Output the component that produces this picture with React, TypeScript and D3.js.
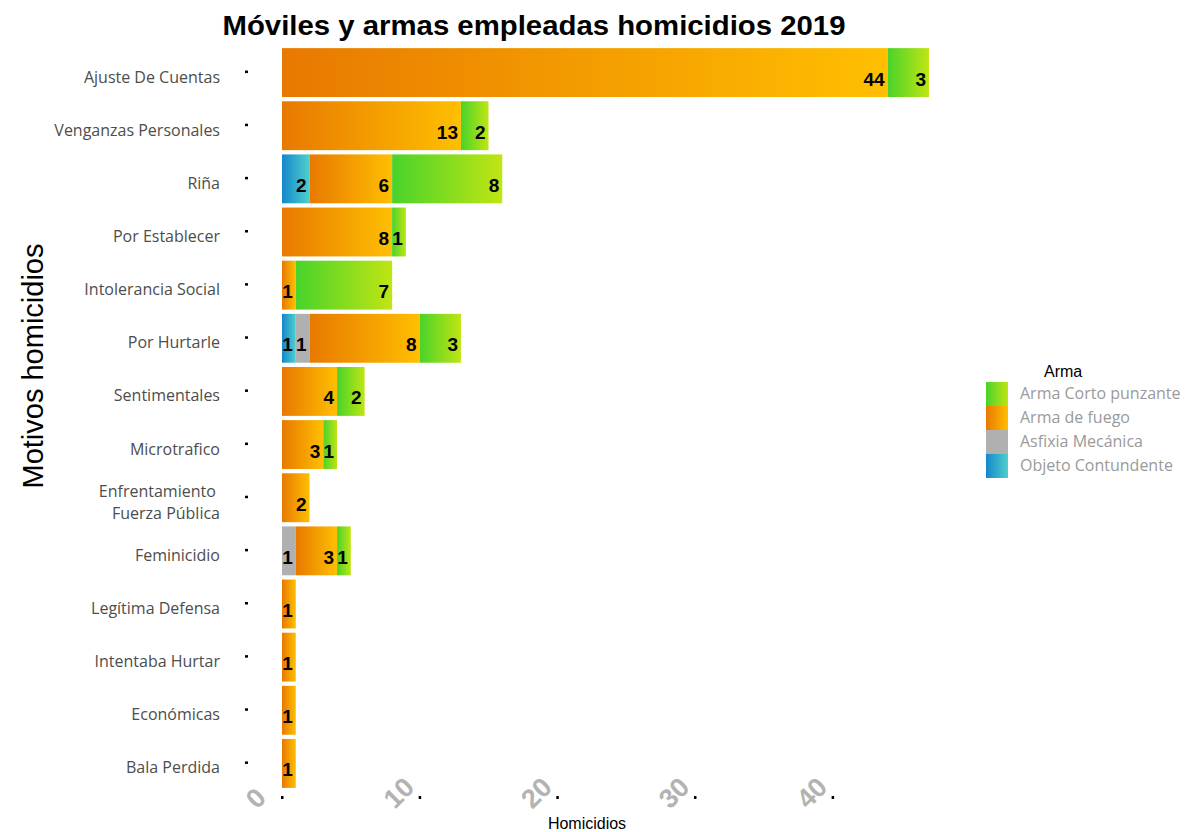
import { scaleBand, scaleLinear, stack } from "d3";

const motivos = [
  "Ajuste De Cuentas",
  "Venganzas Personales",
  "Riña",
  "Por Establecer",
  "Intolerancia Social",
  "Por Hurtarle",
  "Sentimentales",
  "Microtrafico",
  "Enfrentamiento \nFuerza Pública",
  "Feminicidio",
  "Legítima Defensa",
  "Intentaba Hurtar",
  "Económicas",
  "Bala Perdida",
];

// stacking order left to right
const armas = ["Objeto Contundente", "Asfixia Mecánica", "Arma de fuego", "Arma Corto punzante"];
const objeto = [0, 0, 2, 0, 0, 1, 0, 0, 0, 0, 0, 0, 0, 0];
const asfixia = [0, 0, 0, 0, 0, 1, 0, 0, 0, 1, 0, 0, 0, 0];
const fuego = [44, 13, 6, 8, 1, 8, 4, 3, 2, 3, 1, 1, 1, 1];
const corto = [3, 2, 8, 1, 7, 3, 2, 1, 0, 1, 0, 0, 0, 0];
const xTicks = [0, 10, 20, 30, 40];

const gradients: Record<string, [string, string]> = {
  "Objeto Contundente": ["#1487cc", "#4fcfcc"],
  "Asfixia Mecánica": ["#b0b0b0", "#b0b0b0"],
  "Arma de fuego": ["#e87900", "#ffbf00"],
  "Arma Corto punzante": ["#49d32a", "#c0e513"],
};
const legendOrder = ["Arma Corto punzante", "Arma de fuego", "Asfixia Mecánica", "Objeto Contundente"];

const gid = (k: string) => "g-" + armas.indexOf(k);

export default function App() {
  const rows = motivos.map((m, i) => ({
    motivo: m,
    "Objeto Contundente": objeto[i],
    "Asfixia Mecánica": asfixia[i],
    "Arma de fuego": fuego[i],
    "Arma Corto punzante": corto[i],
  }));
  const series = stack<any>().keys(armas)(rows);

  const x = scaleLinear().domain([0, 47]).range([282, 929]);
  const y = scaleBand<string>()
    .domain(motivos)
    .range([46, 790])
    .paddingInner(0.08)
    .paddingOuter(0.04);
  const bw = y.bandwidth();

  return (
    <svg
      width={1188}
      height={832}
      style={{ position: "absolute", left: 0, top: 0, background: "#fff" }}
    >
      <defs>
        {armas.map((k) => (
          <linearGradient key={k} id={gid(k)} x1="0" x2="1" y1="0" y2="0">
            <stop offset="0%" stopColor={gradients[k][0]} />
            <stop offset="100%" stopColor={gradients[k][1]} />
          </linearGradient>
        ))}
      </defs>

      <text
        x={534}
        y={35}
        textAnchor="middle"
        fontFamily="Liberation Sans, Arial, sans-serif"
        fontWeight="bold"
        fontSize={28}
        textLength={623}
        lengthAdjust="spacingAndGlyphs"
      >
        Móviles y armas empleadas homicidios 2019
      </text>

      {/* bars */}
      {series.map((s) =>
        s.map((d: any, i: number) =>
          d[1] - d[0] > 0 ? (
            <rect
              key={`${s.key}-${i}`}
              x={x(d[0])}
              y={y(motivos[i])}
              width={x(d[1]) - x(d[0])}
              height={bw}
              fill={`url(#${gid(s.key)})`}
            />
          ) : null
        )
      )}

      {/* value labels */}
      {series.map((s) =>
        s.map((d: any, i: number) =>
          d[1] - d[0] > 0 ? (
            <text
              key={`lab-${s.key}-${i}`}
              x={x(d[1]) - 3}
              y={(y(motivos[i]) ?? 0) + bw / 2 + 13}
              textAnchor="end"
              fontFamily="Liberation Sans, Arial, sans-serif"
              fontWeight="bold"
              fontSize={19}
              fill="#000"
            >
              {d[1] - d[0]}
            </text>
          ) : null
        )
      )}

      {/* y axis */}
      {motivos.map((m) => {
        const cy = (y(m) ?? 0) + bw / 2;
        const lines = m.split("\n");
        return (
          <g key={`y-${m}`}>
            <rect x={245} y={cy - 2} width={3} height={2.5} fill="#000" />
            <text
              x={220}
              textAnchor="end"
              fontFamily="Open Sans, sans-serif"
              fontSize={16}
              fill="#4d4d4d"
            >
              {lines.map((l, j) => (
                <tspan
                  key={j}
                  x={220}
                  y={cy + 10 + (j - (lines.length - 1) / 2) * 22}
                  style={{ whiteSpace: "pre" }}
                >
                  {l}
                </tspan>
              ))}
            </text>
          </g>
        );
      })}

      {/* x axis */}
      {xTicks.map((t) => (
        <g key={`x-${t}`}>
          <rect x={x(t) - 1} y={796} width={2.5} height={3} fill="#000" />
          <text
            transform={`translate(${x(t) - 25},${810}) rotate(-45)`}
            textAnchor="start"
            fontFamily="Liberation Sans, Arial, sans-serif"
            fontWeight="bold"
            fontSize={27}
            fill="#b3b3b3"
          >
            {t}
          </text>
        </g>
      ))}

      <text
        x={587}
        y={829}
        textAnchor="middle"
        fontFamily="Liberation Sans, Arial, sans-serif"
        fontSize={16}
      >
        Homicidios
      </text>
      <text
        transform="translate(43,366) rotate(-90)"
        textAnchor="middle"
        fontFamily="Liberation Sans, Arial, sans-serif"
        fontSize={29}
      >
        Motivos homicidios
      </text>

      {/* legend */}
      <text x={1044} y={377} fontFamily="Liberation Sans, Arial, sans-serif" fontSize={16}>
        Arma
      </text>
      {legendOrder.map((k, i) => (
        <g key={`lg-${k}`} transform={`translate(986,${382 + i * 24})`}>
          <rect width={22} height={24} fill={`url(#${gid(k)})`} />
          <text
            x={34}
            y={17}
            fontFamily="Open Sans, sans-serif"
            fontSize={16}
            fill="#9a9a9a"
          >
            {k}
          </text>
        </g>
      ))}
    </svg>
  );
}
